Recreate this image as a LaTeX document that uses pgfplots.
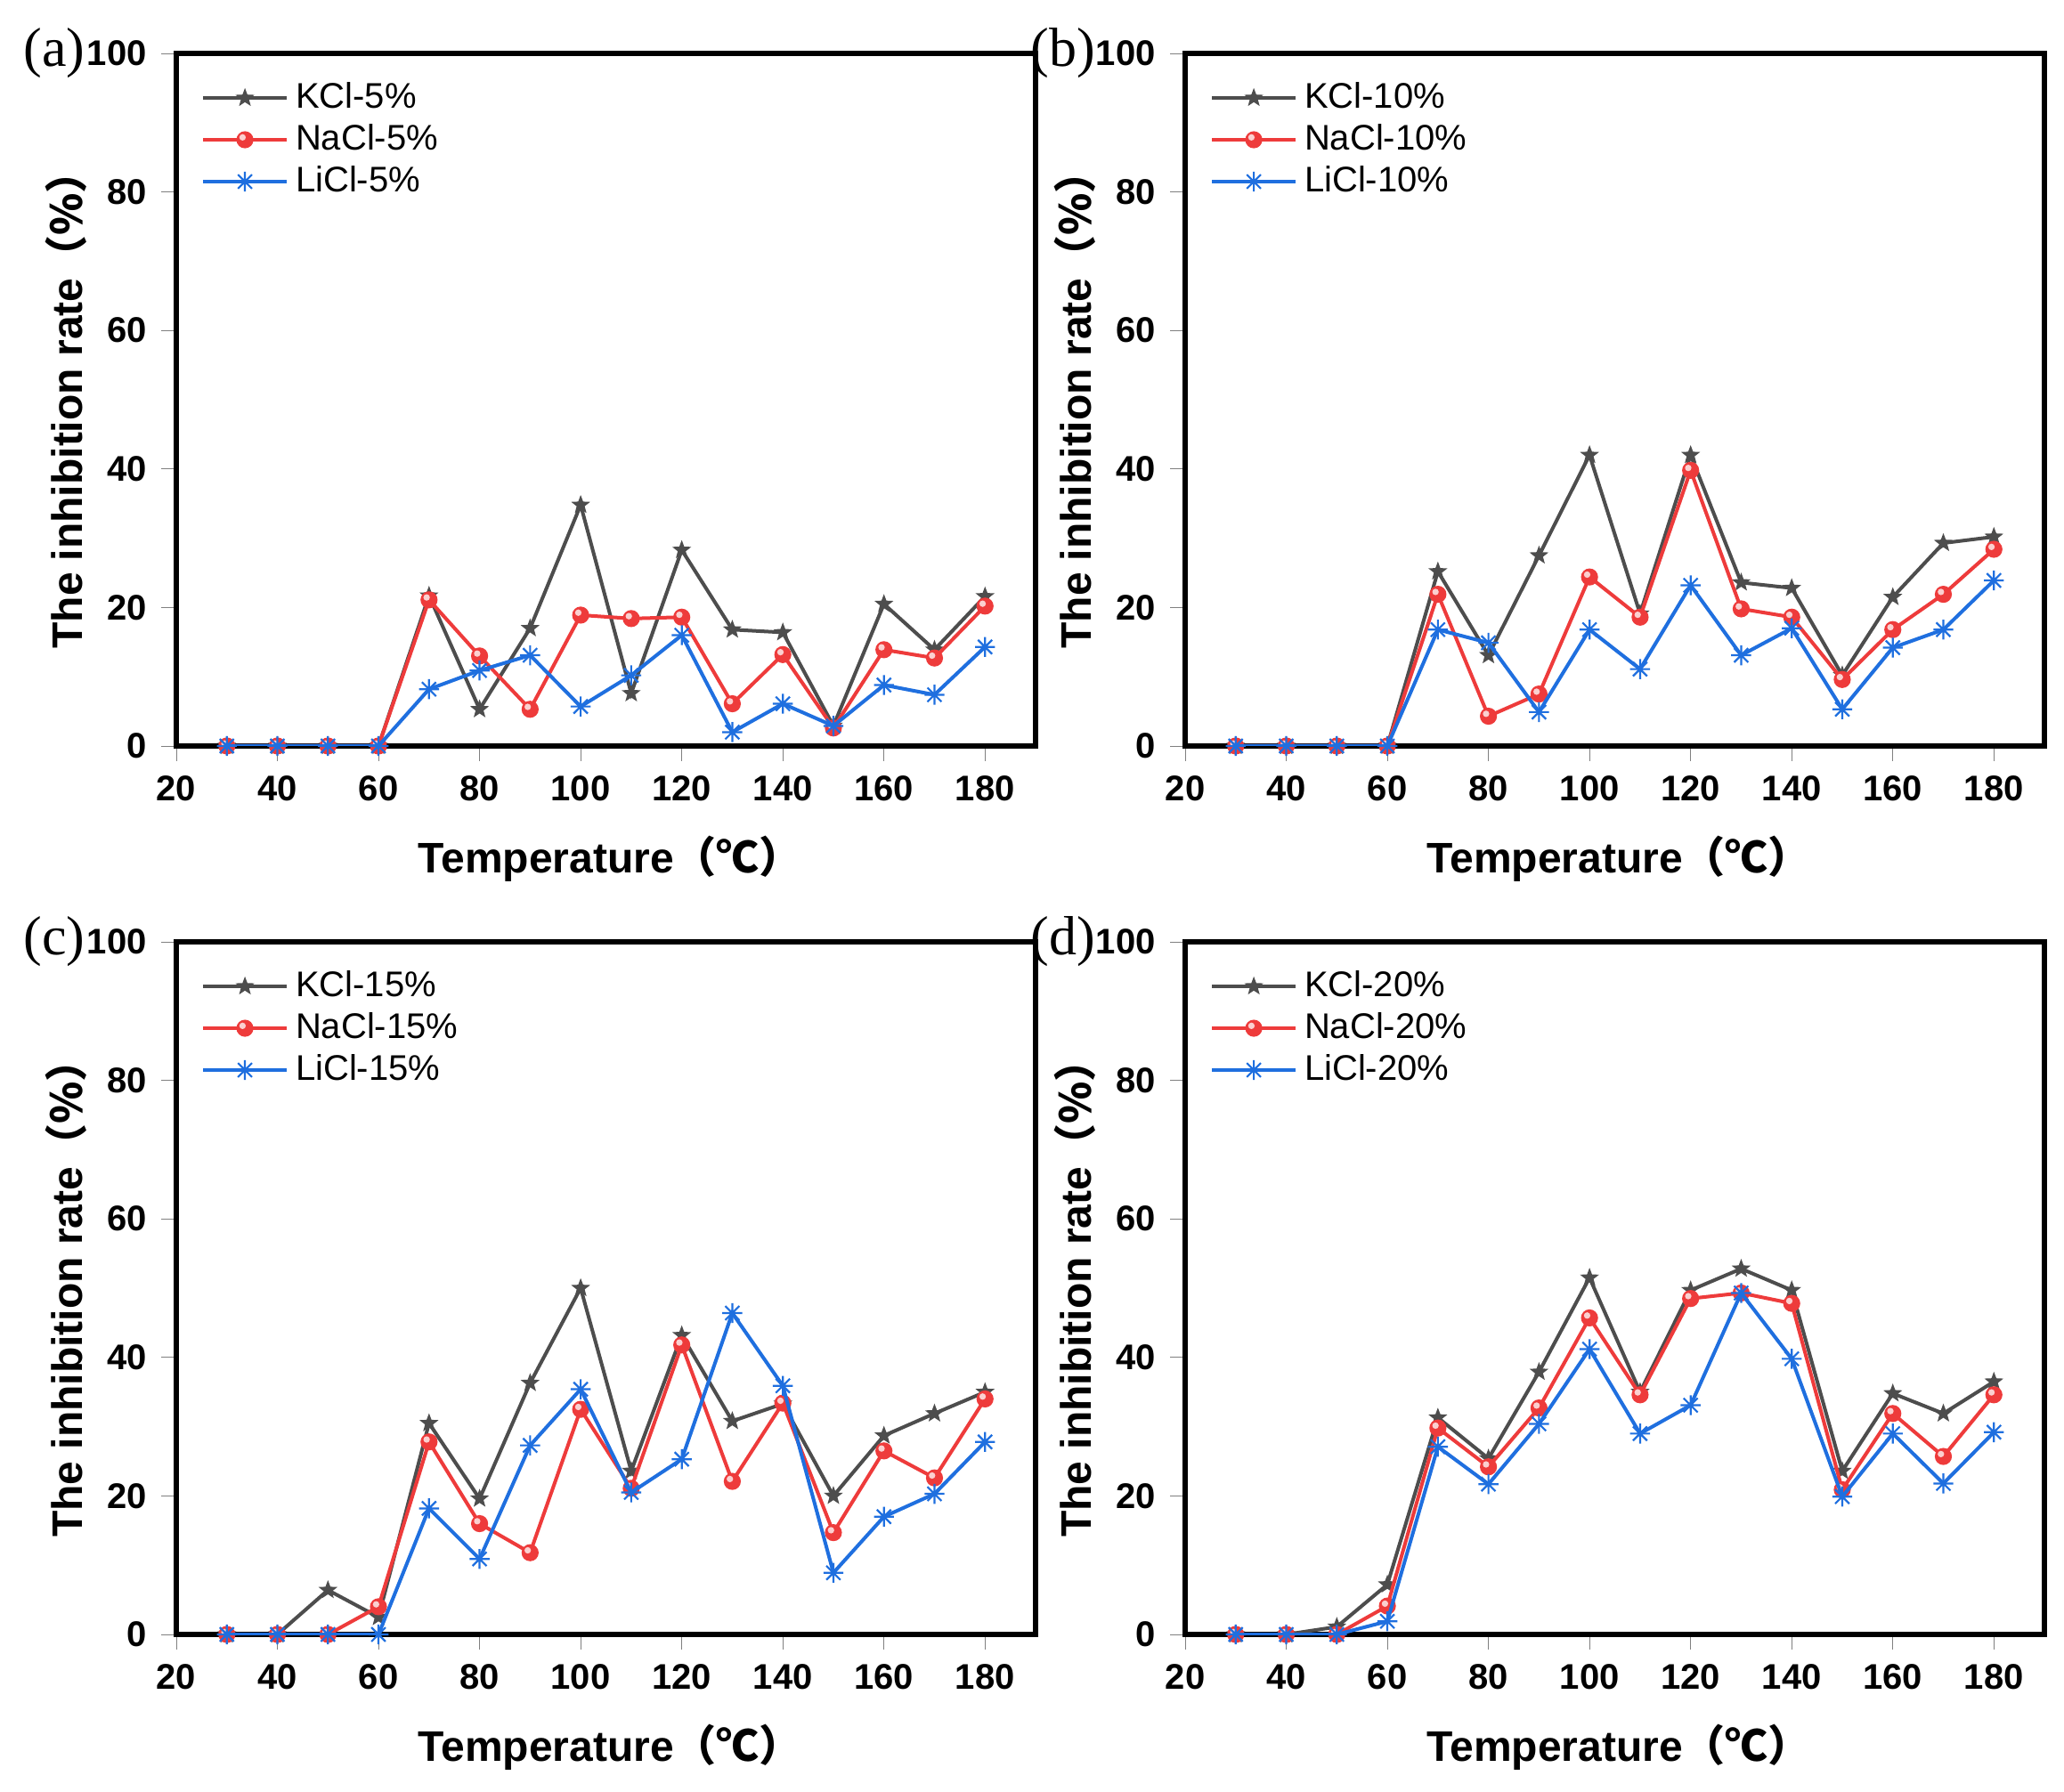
\documentclass[border=0pt]{standalone}
\usepackage{fontspec}
\setmainfont{Liberation Sans}
\newfontfamily\serif{Liberation Serif}
\newfontfamily\cjk{Noto Sans CJK SC}
\usepackage{pgfplots}
\pgfplotsset{compat=1.18}
\usepackage{pgfplotstable}
\definecolor{kcl}{HTML}{4D4D4D}
\definecolor{nacl}{HTML}{EE3B3B}
\definecolor{naclhi}{HTML}{FBD0D0}
\definecolor{licl}{HTML}{1F6FDF}

\pgfdeclareplotmark{fstar}{%
  \pgfpathmoveto{\pgfpointpolar{90}{\pgfplotmarksize}}%
  \pgfpathlineto{\pgfpointpolar{126}{0.42\pgfplotmarksize}}%
  \pgfpathlineto{\pgfpointpolar{162}{\pgfplotmarksize}}%
  \pgfpathlineto{\pgfpointpolar{198}{0.42\pgfplotmarksize}}%
  \pgfpathlineto{\pgfpointpolar{234}{\pgfplotmarksize}}%
  \pgfpathlineto{\pgfpointpolar{270}{0.42\pgfplotmarksize}}%
  \pgfpathlineto{\pgfpointpolar{306}{\pgfplotmarksize}}%
  \pgfpathlineto{\pgfpointpolar{342}{0.42\pgfplotmarksize}}%
  \pgfpathlineto{\pgfpointpolar{18}{\pgfplotmarksize}}%
  \pgfpathlineto{\pgfpointpolar{54}{0.42\pgfplotmarksize}}%
  \pgfpathclose\pgfusepathqfill}
\pgfdeclareplotmark{ball}{%
  \begin{pgfscope}%
  \pgfsetfillcolor{nacl}%
  \pgfpathcircle{\pgfpointorigin}{\pgfplotmarksize}\pgfusepathqfill
  \pgfsetfillcolor{naclhi}%
  \pgfpathcircle{\pgfpoint{-0.28\pgfplotmarksize}{0.28\pgfplotmarksize}}{0.38\pgfplotmarksize}\pgfusepathqfill
  \end{pgfscope}}
\pgfdeclareplotmark{ast8}{%
  \pgfpathmoveto{\pgfqpoint{0pt}{\pgfplotmarksize}}\pgfpathlineto{\pgfqpoint{0pt}{-\pgfplotmarksize}}%
  \pgfpathmoveto{\pgfqpoint{\pgfplotmarksize}{0pt}}\pgfpathlineto{\pgfqpoint{-\pgfplotmarksize}{0pt}}%
  \pgfpathmoveto{\pgfpointpolar{45}{\pgfplotmarksize}}\pgfpathlineto{\pgfpointpolar{225}{\pgfplotmarksize}}%
  \pgfpathmoveto{\pgfpointpolar{135}{\pgfplotmarksize}}\pgfpathlineto{\pgfpointpolar{315}{\pgfplotmarksize}}%
  \pgfusepathqstroke}

\pgfplotstableread{
T K Na Li
30 0 0 0
40 0 0 0
50 0 0 0
60 0 0 0
70 21.7 21.1 8.2
80 5.3 13 10.9
90 17 5.3 13.1
100 34.8 18.9 5.7
110 7.6 18.4 10.2
120 28.3 18.6 16
130 16.8 6.1 2
140 16.4 13.2 6.1
150 2.9 2.6 2.9
160 20.5 13.9 8.8
170 13.9 12.7 7.4
180 21.6 20.2 14.3
}\tabA
\pgfplotstableread{
T K Na Li
30 0 0 0
40 0 0 0
50 0 0 0
60 0 0 0
70 25.2 21.9 16.8
80 13.1 4.3 14.9
90 27.5 7.5 4.9
100 42 24.4 16.8
110 19.1 18.6 11.1
120 42 39.8 23.2
130 23.6 19.8 13.1
140 22.8 18.6 17
150 10.2 9.6 5.3
160 21.5 16.8 14.2
170 29.3 21.9 16.8
180 30.2 28.4 23.9
}\tabB
\pgfplotstableread{
T K Na Li
30 0 0 0
40 0 0 0
50 6.4 0 0
60 2.5 4 0
70 30.5 27.8 18.2
80 19.6 16 10.9
90 36.3 11.8 27.3
100 50 32.5 35.4
110 23.6 21.1 20.5
120 43.2 41.8 25.3
130 30.8 22.1 46.4
140 33.3 33.4 35.9
150 20 14.7 8.9
160 28.7 26.5 17
170 31.9 22.6 20.3
180 35 34 27.8
}\tabC
\pgfplotstableread{
T K Na Li
30 0 0 0
40 0 0 0
50 1.1 0 0
60 7.2 4.1 1.9
70 31.3 29.8 27.1
80 25.4 24.2 21.7
90 37.9 32.7 30.4
100 51.5 45.7 41.2
110 35 34.6 29
120 49.7 48.5 33.1
130 52.8 49.3 49.3
140 49.7 47.8 39.8
150 23.6 20.9 19.9
160 34.8 31.9 29
170 31.9 25.7 21.8
180 36.5 34.6 29.2
}\tabD

\pgfplotsset{panel/.style={
  width=241.25pt, height=194.5pt, scale only axis,
  clip mode=individual,
  xmin=20, xmax=190, ymin=0, ymax=100,
  xtick={20,40,...,180}, ytick={0,20,...,100},
  xtick pos=bottom, ytick pos=left, tick align=outside,
  major tick length=4.25pt, minor tick num=0,
  every axis/.append style={line width=1.5pt},
  every axis plot/.append style={line width=1pt},
  tick label style={font=\bfseries\fontsize{10}{12}\selectfont, black},
  /pgf/number format/assume math mode=true,
  xlabel={Temperature{\cjk\bfseries （℃）}},
  ylabel={The inhibition rate{\cjk\bfseries （\%）}},
  label style={font=\bfseries\fontsize{12}{14}\selectfont},
  xlabel style={at={(axis description cs:0.505,-0.163)}, anchor=center},
  ylabel style={at={(axis description cs:-0.1285,0.5)}, anchor=center, rotate=0},
  legend style={draw=none, fill=none, inner sep=0pt, row sep=3pt, column sep=2pt,
    nodes={inner sep=0pt},
    at={(axis description cs:0.026,0.962)}, anchor=north west,
    font=\fontsize{10}{12}\selectfont},
  legend cell align=left,
  legend image code/.code={%
    \draw[mark repeat=2, mark phase=2] plot coordinates {(0pt,0pt) (11.75pt,0pt) (23.5pt,0pt)};},
}}

\newcommand{\panelplots}[2]{%
  \addplot[kcl, mark=fstar, mark size=2.8pt] table[x=T,y=K]{#1};
  \addlegendentry{KCl-#2\%}
  \addplot[nacl, mark=ball, mark size=2.4pt] table[x=T,y=Na]{#1};
  \addlegendentry{NaCl-#2\%}
  \addplot[licl, mark=ast8, mark size=2.8pt, mark options={line width=0.55pt}] table[x=T,y=Li]{#1};
  \addlegendentry{LiCl-#2\%}
}
\newcommand{\panellabel}[1]{%
  \node[font=\serif\fontsize{15.5}{16}\selectfont, anchor=center] at (axis description cs:-0.142,1.0) {(#1)};}

\begin{document}
\begin{tikzpicture}
\useasboundingbox (0,0) rectangle (579.5pt,503pt);
\begin{axis}[panel, at={(49.5pt,293.5pt)}, anchor=south west]
\panelplots{\tabA}{5}
\panellabel{a}
\end{axis}
\begin{axis}[panel, at={(332.75pt,293.5pt)}, anchor=south west]
\panelplots{\tabB}{10}
\panellabel{b}
\end{axis}
\begin{axis}[panel, at={(49.5pt,44pt)}, anchor=south west]
\panelplots{\tabC}{15}
\panellabel{c}
\end{axis}
\begin{axis}[panel, at={(332.75pt,44pt)}, anchor=south west]
\panelplots{\tabD}{20}
\panellabel{d}
\end{axis}
\end{tikzpicture}
\end{document}
